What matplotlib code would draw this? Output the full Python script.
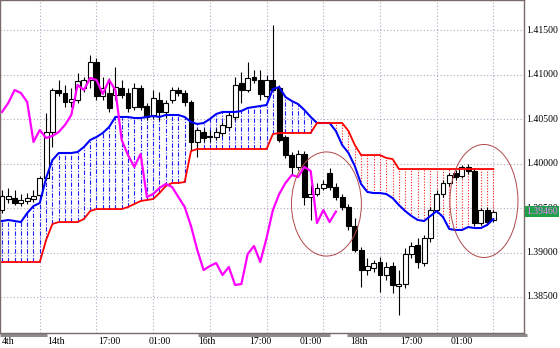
import matplotlib
matplotlib.use('Agg')
import matplotlib.pyplot as plt
import matplotlib.transforms as mtransforms
from matplotlib.patches import Ellipse
import numpy as np

# hourly candles, left to right
opens = [1.39477, 1.39601, 1.39612, 1.39556, 1.39578, 1.39601, 1.39646, 1.39837, 1.40354, 1.40826,
         1.40792, 1.40691, 1.40713, 1.40848, 1.40938, 1.41140, 1.40758, 1.40792, 1.40769, 1.40848,
         1.40792, 1.40635, 1.40848, 1.40646, 1.40545, 1.40713, 1.40579, 1.40713, 1.40826, 1.40792,
         1.40691, 1.40242, 1.40354, 1.40298, 1.40298, 1.40343, 1.40410, 1.40523, 1.40904, 1.40826,
         1.40972, 1.40938, 1.40758, 1.40938, 1.40848, 1.40298, 1.40095, 1.39961, 1.40107, 1.39623,
         1.39657, 1.39725, 1.39893, 1.39736, 1.39623, 1.39511, 1.39298, 1.39028, 1.38803, 1.38826,
         1.38893, 1.38747, 1.38848, 1.38624, 1.38646, 1.38983, 1.39084, 1.38882, 1.39163, 1.39477,
         1.39657, 1.39781, 1.39893, 1.39860, 1.39961, 1.39916, 1.39331, 1.39477, 1.39365]
highs = [1.39702, 1.39725, 1.39702, 1.39657, 1.39668, 1.39702, 1.39860, 1.40568, 1.40848, 1.40938,
         1.40882, 1.40848, 1.41017, 1.40972, 1.41219, 1.41185, 1.40972, 1.40961, 1.41084, 1.40938,
         1.40848, 1.40904, 1.40882, 1.40680, 1.40826, 1.40803, 1.40713, 1.40859, 1.40859, 1.40826,
         1.40713, 1.40399, 1.40399, 1.40376, 1.40399, 1.40466, 1.40579, 1.40972, 1.41028, 1.41140,
         1.41050, 1.41050, 1.40994, 1.41556, 1.40882, 1.40320, 1.40129, 1.40152, 1.40140, 1.39759,
         1.39781, 1.39815, 1.39950, 1.39781, 1.39657, 1.39545, 1.39387, 1.39062, 1.38938, 1.38916,
         1.38950, 1.38893, 1.38893, 1.38803, 1.39051, 1.39118, 1.39163, 1.39196, 1.39511, 1.39702,
         1.39815, 1.39893, 1.39927, 1.39983, 1.39994, 1.39950, 1.39500, 1.39511, 1.39477]
lows = [1.39443, 1.39556, 1.39533, 1.39522, 1.39545, 1.39567, 1.39612, 1.39815, 1.40185, 1.40758,
        1.40635, 1.40635, 1.40680, 1.40803, 1.40848, 1.40713, 1.40713, 1.40579, 1.40713, 1.40736,
        1.40579, 1.40601, 1.40601, 1.40489, 1.40511, 1.40489, 1.40511, 1.40680, 1.40758, 1.40646,
        1.40152, 1.40073, 1.40242, 1.40242, 1.40264, 1.40309, 1.40376, 1.40489, 1.40680, 1.40803,
        1.40904, 1.40713, 1.40736, 1.40814, 1.40242, 1.40062, 1.39871, 1.39927, 1.39533, 1.39365,
        1.39635, 1.39702, 1.39702, 1.39590, 1.39477, 1.39253, 1.39006, 1.38612, 1.38747, 1.38781,
        1.38556, 1.38691, 1.38545, 1.38298, 1.38601, 1.38938, 1.38826, 1.38848, 1.39118, 1.39443,
        1.39623, 1.39747, 1.39815, 1.39837, 1.39882, 1.39298, 1.39309, 1.39309, 1.39342]
closes = [1.39635, 1.39635, 1.39556, 1.39590, 1.39612, 1.39635, 1.39837, 1.40354, 1.40826, 1.40792,
          1.40691, 1.40725, 1.40927, 1.40938, 1.41140, 1.40758, 1.40848, 1.40624, 1.40859, 1.40769,
          1.40624, 1.40848, 1.40635, 1.40523, 1.40736, 1.40579, 1.40680, 1.40826, 1.40792, 1.40691,
          1.40242, 1.40376, 1.40287, 1.40309, 1.40354, 1.40433, 1.40545, 1.40882, 1.40826, 1.40961,
          1.40938, 1.40781, 1.40938, 1.40826, 1.40264, 1.40095, 1.39961, 1.40107, 1.39623, 1.39657,
          1.39725, 1.39770, 1.39736, 1.39623, 1.39511, 1.39298, 1.39028, 1.38803, 1.38848, 1.38882,
          1.38747, 1.38837, 1.38635, 1.38646, 1.38983, 1.39073, 1.38893, 1.39163, 1.39477, 1.39657,
          1.39781, 1.39871, 1.39848, 1.39961, 1.39916, 1.39331, 1.39477, 1.39342, 1.39460]

# cloud edges (blue = span A, red = span B)
span_a = [1.39354, 1.39365, 1.39354, 1.39342, 1.39443, 1.39522, 1.39556, 1.39837, 1.40039, 1.40118,
          1.40118, 1.40118, 1.40129, 1.40185, 1.40264, 1.40298, 1.40343, 1.40410, 1.40523, 1.40523,
          1.40523, 1.40511, 1.40511, 1.40523, 1.40534, 1.40523, 1.40545, 1.40545, 1.40545, 1.40523,
          1.40466, 1.40444, 1.40455, 1.40500, 1.40556, 1.40579, 1.40579, 1.40579, 1.40590, 1.40624,
          1.40635, 1.40646, 1.40657, 1.40837, 1.40859, 1.40747, 1.40702, 1.40668, 1.40601, 1.40523,
          1.40455, 1.40455, 1.40455, 1.40365, 1.40208, 1.40118, 1.39972, 1.39770, 1.39680, 1.39668,
          1.39668, 1.39657, 1.39612, 1.39533, 1.39466, 1.39410, 1.39365, 1.39354, 1.39410, 1.39466,
          1.39399, 1.39264, 1.39253, 1.39253, 1.39286, 1.39275, 1.39275, 1.39309, 1.39376]
span_b = [1.38893, 1.38893, 1.38893, 1.38893, 1.38893, 1.38893, 1.38893, 1.39140, 1.39320, 1.39342,
          1.39342, 1.39342, 1.39342, 1.39376, 1.39466, 1.39488, 1.39488, 1.39488, 1.39488, 1.39488,
          1.39511, 1.39545, 1.39578, 1.39590, 1.39601, 1.39668, 1.39747, 1.39781, 1.39781, 1.39792,
          1.40140, 1.40163, 1.40163, 1.40163, 1.40163, 1.40163, 1.40163, 1.40163, 1.40163, 1.40163,
          1.40163, 1.40163, 1.40163, 1.40331, 1.40343, 1.40343, 1.40343, 1.40343, 1.40343, 1.40343,
          1.40455, 1.40455, 1.40455, 1.40455, 1.40455, 1.40365, 1.40208, 1.40095, 1.40095, 1.40095,
          1.40095, 1.40062, 1.40050, 1.39938, 1.39938, 1.39938, 1.39938, 1.39938, 1.39938, 1.39938,
          1.39938, 1.39938, 1.39938, 1.39938, 1.39938, 1.39938, 1.39938, 1.39938, 1.39938]
chikou_shift = 25

price_ticks = [1.415, 1.410, 1.405, 1.400, 1.395, 1.390, 1.385]
price_labels = ['1.41500', '1.41000', '1.40500', '1.40000', '1.39500', '1.39000', '1.38500']
grid_bars = [6, 15, 24, 33, 42, 51, 60, 69, 78]
time_labels = ['4th', '14th', '17:00', '01:00', '16th', '17:00', '01:00', '18th', '17:00', '01:00']
day_spans = [(-0.3, 7.1), (31.1, 52.1), (54.8, 83.3)]
bid = 1.39460

o = np.array(opens); h = np.array(highs); l = np.array(lows); c = np.array(closes)
a = np.array(span_a); b = np.array(span_b)
x = np.arange(len(c))

fig = plt.figure(figsize=(5.6, 3.48), dpi=100)
ax = fig.add_axes([0, 15 / 348, 524 / 560, 333 / 348])
ax.set_xlim(-0.317, 82.86)
ax.set_ylim(1.380955, 1.418371)
ax.set_xticks([]); ax.set_yticks([])
for s in ax.spines.values():
    s.set_color('#7a6a6a')
    s.set_linewidth(1.0)

# grid
gstyle = dict(color='#b8a4c4', lw=0.8, ls=(0, (1, 2)), zorder=0)
for p in price_ticks:
    ax.axhline(p, **gstyle)
for g in grid_bars:
    ax.axvline(g, **gstyle)

# cloud hatching
bull = a >= b
ax.vlines(x[bull], b[bull], a[bull], color='#2020ff', lw=0.8, linestyles=[(0, (4, 1.5, 1, 1.5))], zorder=1)
ax.vlines(x[~bull], a[~bull], b[~bull], color='#ff2020', lw=0.8, linestyles=[(0, (1, 1.5))], zorder=1)

# candles
up = c >= o
ax.vlines(x, l, h, color='black', lw=0.8, zorder=3)
ax.bar(x[up], (c - o)[up], bottom=o[up], width=0.78, facecolor='white', edgecolor='black', lw=0.8, zorder=4)
ax.bar(x[~up], (o - c)[~up], bottom=c[~up], width=0.78, facecolor='black', edgecolor='black', lw=0.8, zorder=4)

# lines
ax.plot(x, a, color='#0000ff', lw=1.5, zorder=5)
ax.plot(x, b, color='#ff0000', lw=1.3, zorder=5)
ax.plot(x[:-chikou_shift], c[chikou_shift:], color='#ff00ff', lw=1.6, zorder=6)

# drawn ellipses
ax.add_patch(Ellipse((51.5, 1.39545), 11.1, 0.0117, fill=False, ec='#b04848', lw=0.7, zorder=7))
ax.add_patch(Ellipse((76.5, 1.39579), 10.8, 0.0127, fill=False, ec='#b04848', lw=0.7, zorder=7))

# price scale
ytr = mtransforms.blended_transform_factory(ax.transAxes, ax.transData)
for p, t in zip(price_ticks, price_labels):
    ax.text(1.004, p, t, transform=ytr, ha='left', va='center', fontsize=7,
            family='Liberation Serif', color='black', clip_on=False)
ax.text(1.004, bid, '%.5f' % bid, transform=ytr, ha='left', va='center', fontsize=7,
        family='Liberation Serif', color='#f080ff', clip_on=False, zorder=10,
        bbox=dict(facecolor='#20a048', edgecolor='none', pad=0.6))

# time scale
xtr = mtransforms.blended_transform_factory(ax.transData, ax.transAxes)
for k, t in enumerate(time_labels):
    xp = 0 if k == 0 else 8 * k - 0.8
    ax.text(xp, -0.026, t, transform=xtr, ha='left', va='center', fontsize=7,
            family='Liberation Serif', color='black', clip_on=False)
for s0, s1 in day_spans:
    ax.plot([s0, s1], [-0.005, -0.005], transform=xtr, color='#8c8c8c', lw=2.2,
            solid_capstyle='butt', clip_on=False)

fig.savefig('out.png', dpi=100, facecolor='white')
